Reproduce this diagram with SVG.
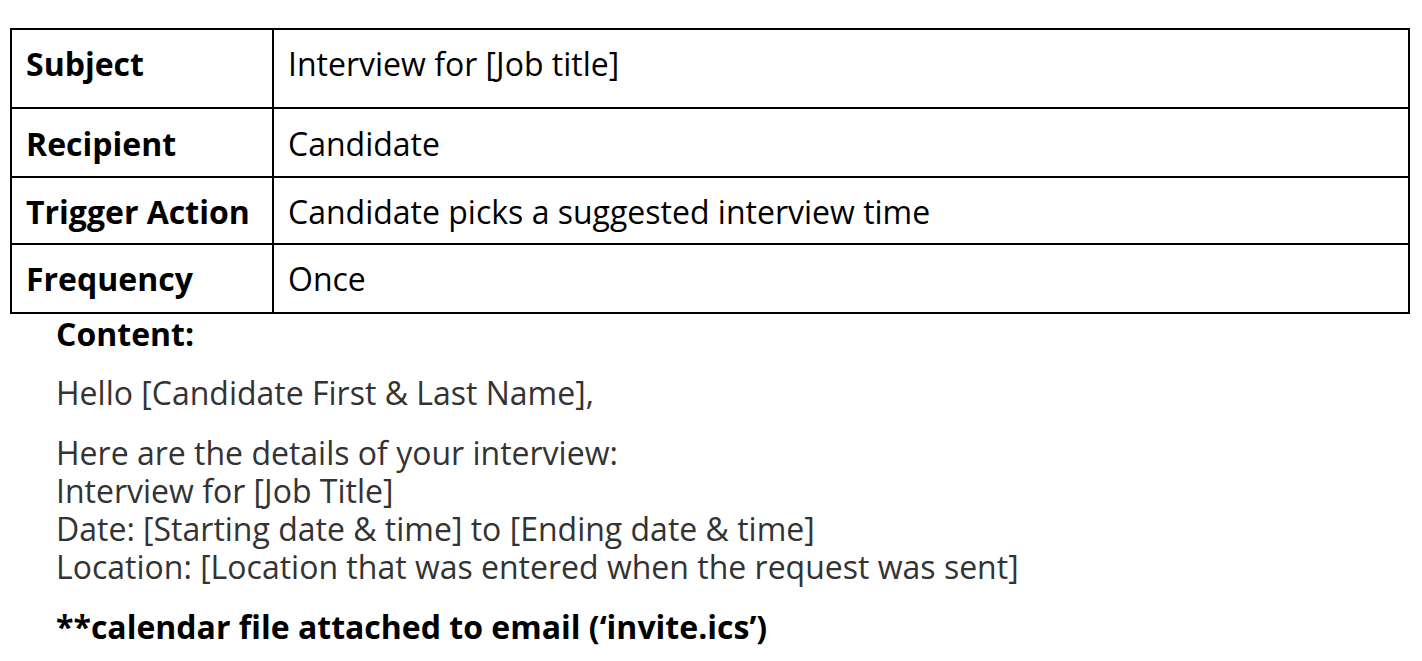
<svg xmlns="http://www.w3.org/2000/svg" width="1422" height="661" viewBox="0 0 1422 661">
<style>
text{font-family:"Open Sans","Noto Sans",sans-serif;font-size:32px}
.b{font-weight:bold;fill:#000}
.t{fill:#000}
.c{fill:#333}
.cb{font-weight:bold;fill:#000}
line,rect{stroke:#000;stroke-width:2;fill:none}
</style>
<rect fill="#fff" width="1422" height="661" style="stroke:none;fill:#fff"/>
<g id="table">
<rect x="11" y="29" width="1398" height="284"/>
<line x1="273" y1="29" x2="273" y2="313"/>
<line x1="11" y1="108" x2="1409" y2="108"/>
<line x1="11" y1="177" x2="1409" y2="177"/>
<line x1="11" y1="244" x2="1409" y2="244"/>
</g>
<g id="row-subject"><text class="b" x="26" y="76">Subject</text><text class="t" x="288" y="76">Interview for [Job title]</text></g>
<g id="row-recipient"><text class="b" x="26" y="156">Recipient</text><text class="t" x="288" y="156">Candidate</text></g>
<g id="row-trigger"><text class="b" x="26" y="224">Trigger Action</text><text class="t" x="288" y="224">Candidate picks a suggested interview time</text></g>
<g id="row-frequency"><text class="b" x="26" y="291">Frequency</text><text class="t" x="288" y="291">Once</text></g>
<g id="content">
<text class="cb" x="56" y="346">Content:</text>
<text class="c" x="56" y="405">Hello [Candidate First &amp; Last Name],</text>
<text class="c" x="56" y="465">Here are the details of your interview:</text>
<text class="c" x="56" y="503">Interview for [Job Title]</text>
<text class="c" x="56" y="541">Date: [Starting date &amp; time] to [Ending date &amp; time]</text>
<text class="c" x="56" y="579">Location: [Location that was entered when the request was sent]</text>
<text class="cb" x="56" y="639">**calendar file attached to email (‘invite.ics’)</text>
</g>
</svg>
